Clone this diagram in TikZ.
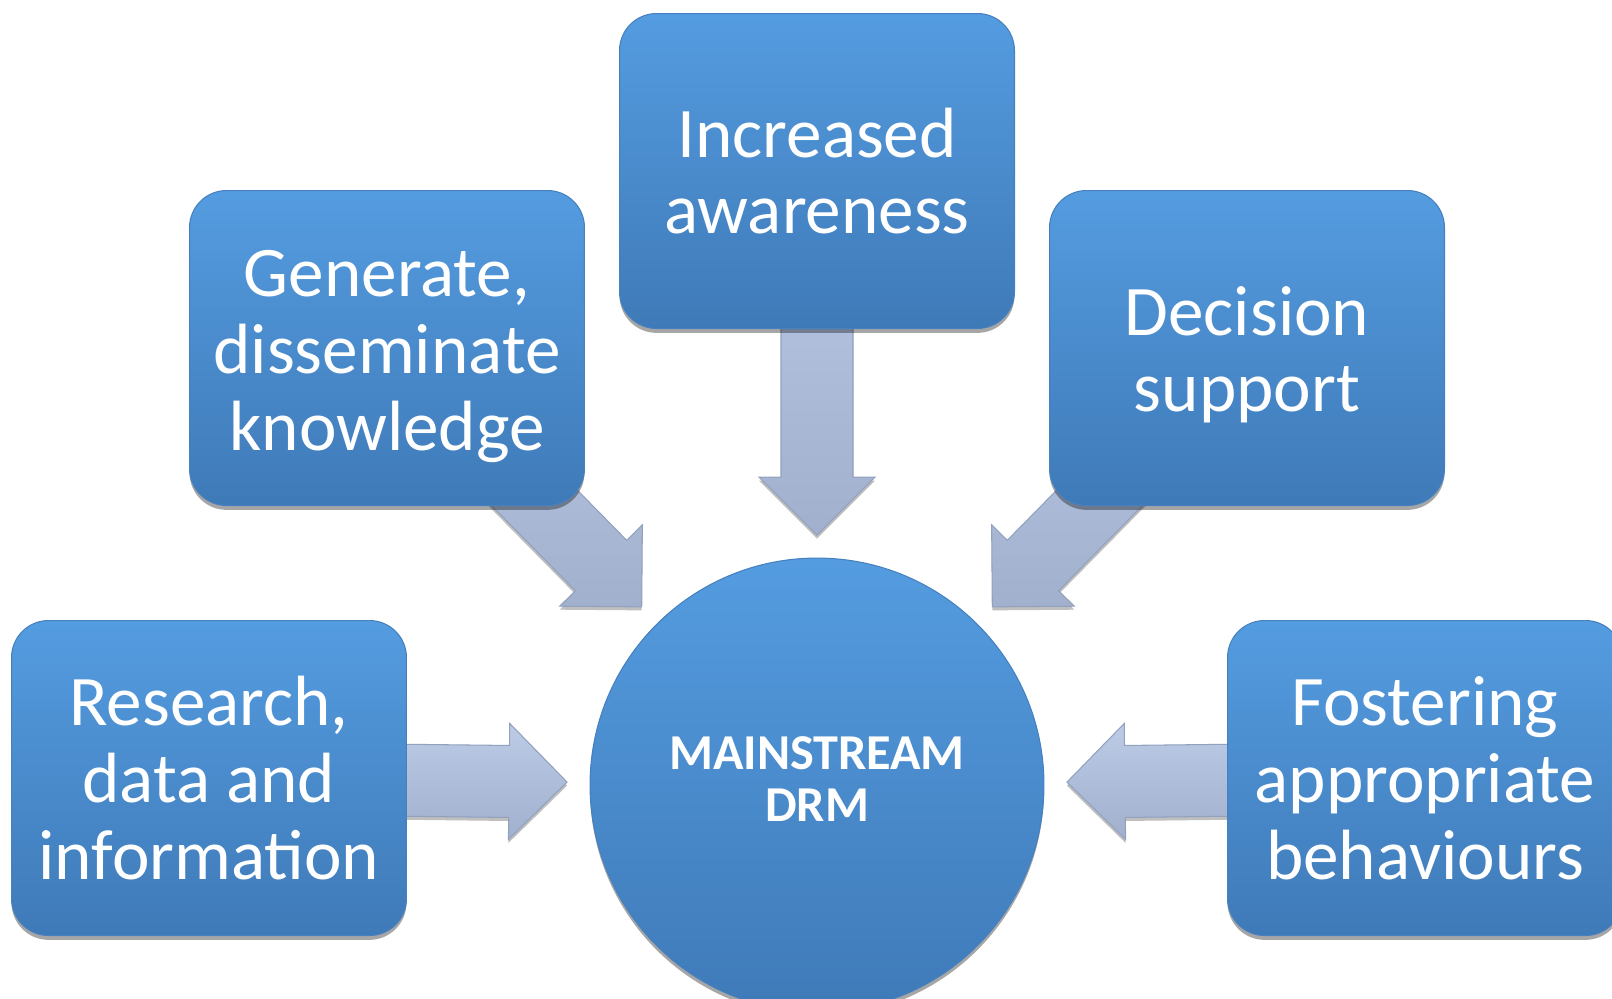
\documentclass[tikz,border=0pt]{standalone}
\usepackage{fontspec}
\setmainfont{Carlito}
\usetikzlibrary{calc,shadows}
\definecolor{boxtop}{RGB}{84,156,224}
\definecolor{boxbot}{RGB}{63,122,184}
\definecolor{boxedge}{RGB}{70,128,190}
\definecolor{arrtop}{RGB}{188,203,230}
\definecolor{arrbot}{RGB}{160,176,205}
\definecolor{arredge}{RGB}{146,161,190}
\pgfdeclarelayer{bg}
\pgfsetlayers{bg,main}
\tikzset{
  topic/.style={rectangle, rounded corners=0.74cm, minimum width=7.9cm, minimum height=6.3cm,
    top color=boxtop, bottom color=boxbot, draw=boxedge, line width=0.6pt,
    drop shadow={shadow xshift=0pt, shadow yshift=-2.5pt, opacity=0.35, fill=black},
    text=white, align=center, font=\fontsize{40.5}{43.7}\selectfont, inner sep=0pt},
  hub/.style={circle, minimum size=9.08cm, inner sep=0pt,
    top color=boxtop, bottom color=boxbot, draw=boxedge, line width=0.6pt,
    drop shadow={shadow xshift=0pt, shadow yshift=-2.5pt, opacity=0.35, fill=black},
    text=white, align=center, font=\fontsize{28.6}{30}\selectfont\bfseries},
  blockarr/.style={top color=arrtop, bottom color=arrbot, draw=arredge, line width=0.6pt, line join=miter,
    drop shadow={shadow xshift=0pt, shadow yshift=-2pt, opacity=0.25, fill=black}}
}
\newcommand{\blockarrow}[2]{%
  \coordinate (hb) at ($(#2)!1.16cm!(#1)$);
  \draw[blockarr] ($(#1)!0.72cm!90:(#2)$) -- ($(hb)!0.72cm!-90:(#1)$) -- ($(hb)!1.16cm!-90:(#1)$) -- (#2)
    -- ($(hb)!1.16cm!90:(#1)$) -- ($(hb)!0.72cm!90:(#1)$) -- ($(#1)!0.72cm!-90:(#2)$) -- cycle;}
\newcommand{\lowered}[1]{\raisebox{0pt}[\dimexpr\height+11.6pt\relax]{\begin{tabular}{@{}c@{}}#1\end{tabular}}}
\begin{document}
\begin{tikzpicture}[x=0.02cm, y=-0.02cm]
\useasboundingbox (0,0) rectangle (1612,998);
\clip (0,0) rectangle (1612,998);
\node[topic] (aware) at (817,171) {Increased\\awareness};
\node[topic] (gen) at (387,348) {\lowered{Generate,\\disseminate\\knowledge}};
\node[topic] (dec) at (1247,348) {\lowered{Decision\\support}};
\node[topic] (res) at (209,778) {Research,\\data and\\information};
\node[topic] (fos) at (1425,778) {Fostering\\appropriate\\behaviours};
\node[hub] (drm) at (817,785) {\raisebox{2.5pt}{\begin{tabular}{@{}c@{}}MAINSTREAM\\DRM\end{tabular}}};
\coordinate (t-aware) at ($(drm.center)!5cm!(aware.center)$);
\coordinate (t-gen) at ($(drm.center)!5cm!(gen.center)$);
\coordinate (t-dec) at ($(drm.center)!5cm!(dec.center)$);
\coordinate (t-res) at ($(drm.center)!5cm!(res.center)$);
\coordinate (t-fos) at ($(drm.center)!5cm!(fos.center)$);
\begin{pgfonlayer}{bg}
\blockarrow{aware.center}{t-aware}
\blockarrow{gen.center}{t-gen}
\blockarrow{dec.center}{t-dec}
\blockarrow{res.center}{t-res}
\blockarrow{fos.center}{t-fos}
\end{pgfonlayer}
\end{tikzpicture}
\end{document}
